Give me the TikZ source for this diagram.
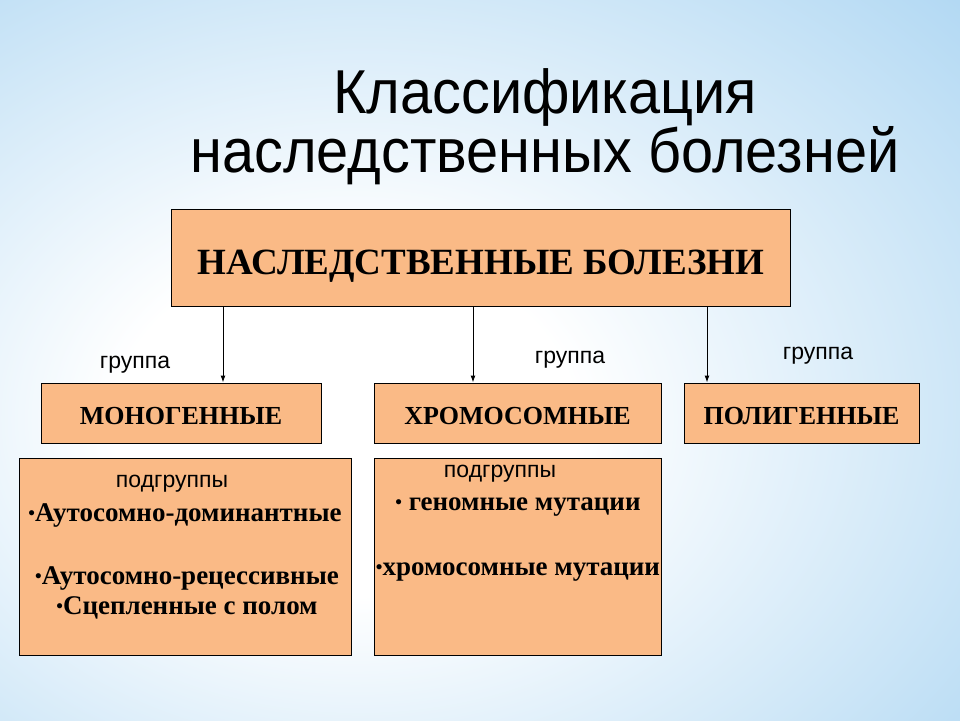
\documentclass[tikz,border=0pt]{standalone}
\usepackage{fontspec}
\usetikzlibrary{arrows.meta}
\setmainfont{Liberation Serif}
\newfontfamily\titlefont[FakeStretch=0.93]{Liberation Sans}
\newfontfamily\labelfont{Liberation Sans}
\definecolor{peach}{RGB}{250,186,134}
\definecolor{skyblue}{RGB}{165,210,241}
\pgfdeclareradialshading{sky}{\pgfpoint{-8bp}{-5bp}}{color(0bp)=(white); color(12bp)=(white);
  color(46bp)=(skyblue); color(100bp)=(skyblue)}
\newcommand{\dotmark}{\raisebox{1.5pt}{\fontsize{19}{19}\selectfont•}}

\begin{document}
\begin{tikzpicture}[x = 1pt, y = -1pt, line width = 1pt,
                        box/.style = {draw, fill = peach, inner sep = 0pt},
                        caps/.style = {font = \fontsize{26}{30}\selectfont\bfseries, anchor = base},
                        item/.style = {font = \fontsize{27}{30}\selectfont\bfseries, anchor = base},
                        small/.style = {font = \labelfont\fontsize{23}{26}\selectfont, anchor = base},
                        arrow/.style = {-{Latex[length = 7pt, width = 5pt]}}]
      \useasboundingbox (0, 0) rectangle (960, 720);
      \shade [shading = sky] (0, 0) rectangle (960, 720);
      \node [font = \titlefont\fontsize{62}{60}\selectfont, anchor = base] (t1) at (545, 113){Классификация};
      \node [font = \titlefont\fontsize{62}{60}\selectfont, anchor = base] (t2) at (545, 172){наследственных болезней};
      \node [box, minimum width = 619pt, minimum height = 97pt] (all) at (480.5, 257.5){};
      \node [font = \fontsize{37}{40}\selectfont\bfseries, anchor = base] (allt) at (481, 274){НАСЛЕДСТВЕННЫЕ БОЛЕЗНИ};
      \node [box, minimum width = 280pt, minimum height = 60pt] (mono) at (181, 413){};
      \node [box, minimum width = 287pt, minimum height = 60pt] (chromo) at (517.5, 413){};
      \node [box, minimum width = 235pt, minimum height = 60pt] (poly) at (801.5, 413){};
      \node [caps] (monot) at (181, 424){МОНОГЕННЫЕ};
      \node [caps] (chromot) at (517.5, 424){ХРОМОСОМНЫЕ};
      \node [caps] (polyt) at (801.5, 424){ПОЛИГЕННЫЕ};
      \node [small] (g1) at (135, 368){группа};
      \node [small] (g2) at (570, 363){группа};
      \node [small] (g3) at (818, 359){группа};
      \coordinate (x1) at (223, 0);
      \coordinate (x2) at (473, 0);
      \coordinate (x3) at (707, 0);
      \draw [arrow] (x1 |- all.south) -- (x1 |- mono.north);
      \draw [arrow] (x2 |- all.south) -- (x2 |- chromo.north);
      \draw [arrow] (x3 |- all.south) -- (x3 |- poly.north);
      \node [box, minimum width = 332pt, minimum height = 197pt] (monosub) at (185, 556.5){};
      \node [box, minimum width = 287pt, minimum height = 197pt] (chromosub) at (517.5, 556.5){};
      \node [small] (s1) at (172, 487){подгруппы};
      \node [item] (m1) at (185, 521){\dotmark Аутосомно-доминантные};
      \node [item] (m2) at (187, 584){\dotmark Аутосомно-рецессивные};
      \node [item] (m3) at (187, 614){\dotmark Сцепленные с полом};
      \node [small] (s2) at (500, 477){подгруппы};
      \node [item] (c1) at (518, 510){\dotmark\ геномные мутации};
      \node [item] (c2) at (518, 575){\dotmark хромосомные мутации};
    \end{tikzpicture}
\end{document}
